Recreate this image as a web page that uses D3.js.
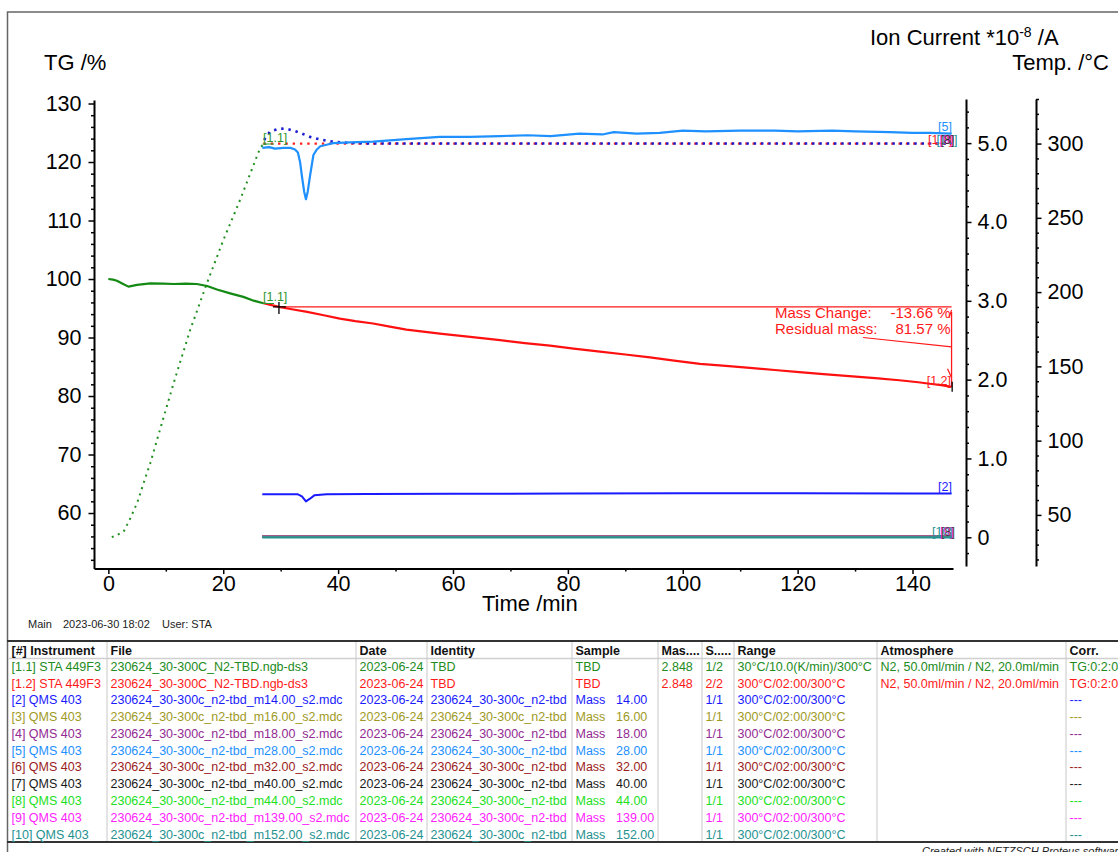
<!DOCTYPE html>
<html>
<head>
<meta charset="utf-8">
<script src="https://cdn.jsdelivr.net/npm/d3@7/dist/d3.min.js"></script>
<style>
  body { margin: 0; background: #fff; }
  svg { display: block; font-family: "Liberation Sans", Arial, sans-serif; }
</style>
</head>
<body>
<svg id="chart"></svg>
<script>
// ---- data: [time /min, value] ----
// TG segment [1.1] (dynamic heating), %
const tg11 = [[0, 100.0], [0.8, 99.9], [1.5, 99.7], [2.4, 99.25], [3.5, 98.7], [5, 99.0], [7.3, 99.25],
  [9.5, 99.2], [11.4, 99.15], [13.5, 99.2], [15.4, 99.15], [17.2, 98.8], [18.9, 98.2], [21.2, 97.55],
  [23.5, 96.95], [25.3, 96.3], [27.0, 95.85]];
// TG segment [1.2] (isothermal), %
const tg12 = [[27.0, 95.85], [28.8, 95.45], [29.7, 95.23], [31.7, 94.87], [34.6, 94.37], [37.5, 93.8],
  [40.3, 93.24], [43, 92.8], [46.1, 92.4], [49, 91.85], [51.9, 91.36], [54.8, 91.0], [57.7, 90.68],
  [63, 90.1], [68.2, 89.55], [72.5, 89.05], [76.9, 88.6], [81, 88.1], [85.6, 87.6], [90, 87.1],
  [94.3, 86.6], [98.5, 86.05], [103, 85.5], [107.5, 85.15], [111.7, 84.8], [116, 84.45], [120.3, 84.1],
  [124.5, 83.75], [129, 83.4], [133.5, 83.05], [137.7, 82.7], [141, 82.35], [143, 82.1], [145, 81.85],
  [146.8, 81.57]];
// Temperature, °C
const temp11 = [[0.6, 35.0], [1.5, 36.5], [2.66, 38.7], [3.83, 47.8], [4.99, 57.9], [6.14, 71.4],
  [7.3, 84.8], [8.47, 100.5], [11.36, 138.7], [14.26, 174.7], [17.17, 206.1], [20.05, 235.3],
  [22.96, 262.3], [25.86, 291.4], [26.43, 297.1], [27.0, 299.5]];
const temp12 = [[27.0, 300], [27.3, 303.8], [28.2, 308.3], [29.8, 310.1], [31.1, 309.9], [32.5, 308.3],
  [33.4, 307.2], [35.1, 304.5], [36.9, 302.7], [38.6, 301.5], [41.5, 300.5], [45, 300.1], [60, 300],
  [100, 300], [146.8, 300]];
const temp12Set = [[27.0, 300], [146.8, 300]];
// Ion currents, *10^-8 A
const m28 = [[26.8, 4.94], [28, 4.95], [29, 4.93], [30.5, 4.94], [31.7, 4.94], [32.5, 4.92], [33.0, 4.88],
  [33.4, 4.75], [33.7, 4.58], [34.1, 4.38], [34.4, 4.29], [34.7, 4.38], [35.1, 4.58], [35.7, 4.85],
  [36.3, 4.92], [36.9, 4.96], [38, 4.98], [39.1, 5.0], [42.1, 5.01], [46.1, 5.02], [51.9, 5.05],
  [57.7, 5.08], [63, 5.08], [68.2, 5.09], [73, 5.10], [77, 5.09], [82, 5.12], [86, 5.11], [88, 5.14],
  [92, 5.12], [96, 5.13], [100, 5.16], [104, 5.15], [110, 5.16], [116, 5.16], [120, 5.15], [126, 5.16],
  [130, 5.15], [136, 5.14], [140, 5.13], [143, 5.13], [146.8, 5.12]];
const m14 = [[26.8, 0.545], [30, 0.547], [33, 0.545], [33.7, 0.52], [34.4, 0.455], [35.1, 0.49],
  [35.9, 0.535], [38, 0.545], [45, 0.55], [60, 0.552], [80, 0.555], [100, 0.558], [120, 0.558],
  [140, 0.557], [146.8, 0.556]];
const m16 = [[26.8, 0.010], [80, 0.011], [146.8, 0.010]];
const m18 = [[26.8, 0.012], [80, 0.012], [146.8, 0.012]];
const m32 = [[26.8, 0.013], [80, 0.012], [146.8, 0.012]];
const m40 = [[26.8, 0.008], [80, 0.008], [146.8, 0.008]];
const m44 = [[26.8, 0.009], [80, 0.009], [146.8, 0.009]];
const m139 = [[26.8, 0.011], [80, 0.011], [146.8, 0.011]];
const m152 = [[26.8, 0.0], [80, 0.0], [146.8, 0.0]];

// mass change evaluation
const massRef = [29.7, 95.23];
const massEnd = [146.8, 81.57];
const massChangeText = ["Mass Change:", "-13.66 %"];
const residualText = ["Residual mass:", "81.57 %"];

// axis ticks
const timeTicks = [0, 20, 40, 60, 80, 100, 120, 140];
const tgTicks = [60, 70, 80, 90, 100, 110, 120, 130];
const ionTicks = [0, 1, 2, 3, 4, 5];
const tempTicks = [50, 100, 150, 200, 250, 300];

// legend table
const tblHeaders = ["[#] Instrument", "File", "Date", "Identity", "Sample", "Mas....", "S.....", "Range", "Atmosphere", "Corr."];
const tblInstrument = ["[1.1] STA 449F3", "[1.2] STA 449F3", "[2] QMS 403", "[3] QMS 403", "[4] QMS 403",
  "[5] QMS 403", "[6] QMS 403", "[7] QMS 403", "[8] QMS 403", "[9] QMS 403", "[10] QMS 403"];
const tblFile = ["230624_30-300C_N2-TBD.ngb-ds3", "230624_30-300C_N2-TBD.ngb-ds3",
  "230624_30-300c_n2-tbd_m14.00_s2.mdc", "230624_30-300c_n2-tbd_m16.00_s2.mdc",
  "230624_30-300c_n2-tbd_m18.00_s2.mdc", "230624_30-300c_n2-tbd_m28.00_s2.mdc",
  "230624_30-300c_n2-tbd_m32.00_s2.mdc", "230624_30-300c_n2-tbd_m40.00_s2.mdc",
  "230624_30-300c_n2-tbd_m44.00_s2.mdc", "230624_30-300c_n2-tbd_m139.00_s2.mdc",
  "230624_30-300c_n2-tbd_m152.00_s2.mdc"];
const tblDate = Array(11).fill("2023-06-24");
const tblIdentity = ["TBD", "TBD"].concat(Array(9).fill("230624_30-300c_n2-tbd"));
const tblSample = ["TBD", "TBD"].concat(Array(9).fill("Mass"));
const tblSampleMass = ["", "", "14.00", "16.00", "18.00", "28.00", "32.00", "40.00", "44.00", "139.00", "152.00"];
const tblMass = ["2.848", "2.848", "", "", "", "", "", "", "", "", ""];
const tblSeg = ["1/2", "2/2", "1/1", "1/1", "1/1", "1/1", "1/1", "1/1", "1/1", "1/1", "1/1"];
const tblRange = ["30°C/10.0(K/min)/300°C"].concat(Array(10).fill("300°C/02:00/300°C"));
const tblAtmos = ["N2, 50.0ml/min / N2, 20.0ml/min", "N2, 50.0ml/min / N2, 20.0ml/min", "", "", "", "", "", "", "", "", ""];
const tblCorr = ["TG:0:2:0", "TG:0:2:0"].concat(Array(9).fill("---"));
const rowColors = ["#228b22", "#ff1a1a", "#1a1aff", "#a09a25", "#922a92", "#1e90ff", "#9b1c1c",
  "#1a1a1a", "#22e022", "#ff22ff", "#269191"];

class ThermoChart {
  constructor(_config) {
    this.config = {
      parentElement: _config.parentElement,
      containerWidth: 1118,
      containerHeight: 852,
      plot: { left: 94, right: 953, top: 99, bottom: 568.6 },
      ionAxisX: 966,
      tempAxisX: 1036,
    };
    this.initVis();
  }

  initVis() {
    let vis = this;
    const c = vis.config;

    vis.svg = d3.select(c.parentElement)
      .attr('width', c.containerWidth)
      .attr('height', c.containerHeight);

    vis.xScale = d3.scaleLinear().domain([-2.5, 147.05]).range([c.plot.left, c.plot.right]);
    vis.yTg = d3.scaleLinear().domain([50.5, 130.6]).range([568.6, 100]);
    vis.yIon = d3.scaleLinear().domain([-0.364, 5.56]).range([566, 99]);
    vis.yTemp = d3.scaleLinear().domain([15.6, 330]).range([566, 99]);

    // outer frame
    vis.svg.append('rect')
      .attr('x', 7.5).attr('y', 12).attr('width', 1200).attr('height', 1000)
      .attr('fill', 'none').attr('stroke', '#666').attr('stroke-width', 1.5);

    vis.chart = vis.svg.append('g');
    vis.renderVis();
    vis.renderTable();
  }

  renderVis() {
    let vis = this;
    const c = vis.config;
    const x = vis.xScale;

    const styleAxis = (g) => {
      g.select('.domain').attr('stroke', '#000').attr('stroke-width', 2);
      g.selectAll('.tick line').attr('stroke', '#000').attr('stroke-width', 1.5);
      g.selectAll('.tick text').attr('fill', '#000')
        .style('font-size', '21.5px').style('font-family', '"Liberation Sans", Arial, sans-serif');
    };
    const noDomain = g => g.select('.domain').remove();

    // x axis
    vis.chart.append('g')
      .attr('transform', `translate(0,${c.plot.bottom})`)
      .call(d3.axisBottom(x).tickValues(d3.range(10, 147, 20)).tickSize(3).tickFormat(''))
      .call(noDomain).call(styleAxis);
    vis.chart.append('g')
      .attr('transform', `translate(0,${c.plot.bottom})`)
      .call(d3.axisBottom(x).tickValues(timeTicks).tickSize(5.5).tickSizeOuter(0).tickPadding(2))
      .call(styleAxis);

    // TG axis
    vis.chart.append('g')
      .attr('transform', `translate(${c.plot.left},0)`)
      .call(d3.axisLeft(vis.yTg).tickValues(d3.range(52, 131, 2).filter(d => d % 10 !== 0)).tickSize(3).tickFormat(''))
      .call(noDomain).call(styleAxis);
    vis.chart.append('g')
      .attr('transform', `translate(${c.plot.left},0)`)
      .call(d3.axisLeft(vis.yTg).tickValues(tgTicks).tickSize(5.5).tickSizeOuter(0).tickPadding(7))
      .call(styleAxis);

    // ion current axis
    vis.chart.append('g')
      .attr('transform', `translate(${c.ionAxisX},0)`)
      .call(d3.axisRight(vis.yIon).tickValues(d3.range(-1, 28).map(i => i * 0.2).filter(d => Math.abs(d - Math.round(d)) > 0.01)).tickSize(3).tickFormat(''))
      .call(noDomain).call(styleAxis);
    vis.chart.append('g')
      .attr('transform', `translate(${c.ionAxisX},0)`)
      .call(d3.axisRight(vis.yIon).tickValues(ionTicks).tickSize(5.5).tickSizeOuter(0).tickPadding(6)
        .tickFormat(d => d === 0 ? '0' : d3.format('.1f')(d)))
      .call(styleAxis);

    // temperature axis
    vis.chart.append('g')
      .attr('transform', `translate(${c.tempAxisX},0)`)
      .call(d3.axisRight(vis.yTemp).tickValues(d3.range(20, 331, 10).filter(d => d % 50 !== 0)).tickSize(3).tickFormat(''))
      .call(noDomain).call(styleAxis);
    vis.chart.append('g')
      .attr('transform', `translate(${c.tempAxisX},0)`)
      .call(d3.axisRight(vis.yTemp).tickValues(tempTicks).tickSize(5.5).tickSizeOuter(0).tickPadding(6))
      .call(styleAxis);

    // axis titles
    const title = (tx, ty, anchor, txt) => vis.svg.append('text')
      .attr('x', tx).attr('y', ty).attr('text-anchor', anchor)
      .style('font-size', '22px').attr('fill', '#000').text(txt);
    title(44, 70, 'start', 'TG /%');
    title(1109, 70, 'end', 'Temp. /°C');
    title(482, 611, 'start', 'Time /min');
    const ionTitle = title(870, 45, 'start', 'Ion Current *10');
    ionTitle.append('tspan').attr('dy', -8).style('font-size', '14px').text('-8');
    ionTitle.append('tspan').attr('dy', 8).text(' /A');

    vis.svg.append('text').attr('y', 628).style('font-size', '11px').attr('fill', '#222')
      .selectAll('tspan').data([[28, 'Main'], [63, '2023-06-30 18:02'], [162, 'User: STA']])
      .join('tspan').attr('x', d => d[0]).text(d => d[1]);

    vis.svg.append('text').attr('x', 922).attr('y', 855)
      .style('font-size', '11px').style('font-style', 'italic').attr('fill', '#222')
      .text('Created with NETZSCH Proteus software');

    // ---- curves ----
    const lineOn = (yScale) => d3.line().x(d => x(d[0])).y(d => yScale(d[1]));
    const drawLine = (data, yScale, color, width, dash, offset) => {
      const p = vis.chart.append('path').datum(data)
        .attr('fill', 'none').attr('stroke', color).attr('stroke-width', width)
        .attr('stroke-linejoin', 'round')
        .attr('d', lineOn(yScale));
      if (dash) p.attr('stroke-dasharray', dash).attr('stroke-dashoffset', offset || 0);
      return p;
    };

    // temperature (dotted)
    drawLine(temp11, vis.yTemp, '#1f8f1f', 2, '2,4.6');
    drawLine(temp12Set, vis.yTemp, '#ff2020', 2.2, '2.4,4.9', 0);
    drawLine(temp12, vis.yTemp, '#1a1ad0', 2.6, '2.4,4.9', 3.6);

    // ion currents near zero
    [[m16, rowColors[3]], [m18, rowColors[4]], [m32, rowColors[6]], [m40, rowColors[7]],
     [m44, rowColors[8]], [m139, rowColors[9]]].forEach(s => drawLine(s[0], vis.yIon, s[1], 2));
    drawLine(m40, vis.yIon, '#8d7a78', 2);
    drawLine(m152, vis.yIon, rowColors[10], 2.2);
    drawLine(m14, vis.yIon, rowColors[2], 2);
    drawLine(m28, vis.yIon, rowColors[5], 2.2);

    // TG
    drawLine(tg11, vis.yTg, '#138a13', 2.2);
    drawLine(tg12, vis.yTg, '#ff1010', 2.2);

    // mass change evaluation
    const red = '#ff1a1a';
    const xr = x(massRef[0]), yr = vis.yTg(massRef[1]);
    const xe = x(massEnd[0]), ye = vis.yTg(massEnd[1]);
    vis.chart.append('line').attr('x1', xr).attr('x2', xe).attr('y1', yr).attr('y2', yr)
      .attr('stroke', red).attr('stroke-width', 1.3);
    vis.chart.append('line').attr('x1', xe).attr('x2', xe).attr('y1', yr + 5).attr('y2', ye)
      .attr('stroke', red).attr('stroke-width', 1.3);
    vis.chart.append('path').attr('d', `M${xe - 2.5},${yr + 11}L${xe},${yr + 3}`)
      .attr('stroke', red).attr('stroke-width', 1.2).attr('fill', 'none');
    vis.chart.append('path').attr('d', `M${xe - 4},${ye - 18}L${xe},${ye - 9}`)
      .attr('stroke', red).attr('stroke-width', 1.2).attr('fill', 'none');
    vis.chart.append('line').attr('x1', xe - 88.5).attr('y1', yr + 30.6).attr('x2', xe).attr('y2', yr + 40)
      .attr('stroke', red).attr('stroke-width', 1.2);
    // markers
    vis.chart.append('path').attr('d', `M${xr},${yr - 5}V${yr + 7}M${xr - 6},${yr}H${xr + 7}`)
      .attr('stroke', '#000').attr('stroke-width', 1.3);
    vis.chart.append('path').attr('d', `M${xe + 0.6},${ye - 5}V${ye + 5}`)
      .attr('stroke', '#000').attr('stroke-width', 1.3);

    const annot = vis.chart.append('g').style('font-size', '15px').attr('fill', red);
    [[massChangeText, yr + 11], [residualText, yr + 27.5]].forEach(r => {
      annot.append('text').attr('x', 775).attr('y', r[1]).text(r[0][0]);
      annot.append('text').attr('x', xe - 1).attr('y', r[1]).attr('text-anchor', 'end').text(r[0][1]);
    });

    // curve labels
    const lbl = (lx, ly, txt, color, anchor) => vis.chart.append('text')
      .attr('x', lx).attr('y', ly).attr('text-anchor', anchor || 'start')
      .style('font-size', '12.5px').attr('fill', color).text(txt);
    const green = '#2e962e';
    lbl(263, 142, '[1.1]', green);
    vis.chart.append('line').attr('x1', 262.5).attr('x2', 274).attr('y1', 144).attr('y2', 144).attr('stroke', green);
    lbl(263, 301, '[1.1]', green);
    vis.chart.append('line').attr('x1', 262.5).attr('x2', 274).attr('y1', 303.5).attr('y2', 303.5).attr('stroke', green);
    lbl(952, 131, '[5]', rowColors[5], 'end');
    lbl(952, 491, '[2]', rowColors[2], 'end');
    lbl(951, 385, '[1.2]', red, 'end');
    // overlapping end labels (temperature cluster and near-zero ion currents)
    lbl(928, 143.5, '[1.2]', red);
    lbl(936.5, 143.5, '[10]', rowColors[10]);
    lbl(939.5, 143.5, '[9]', rowColors[9]);
    lbl(940.5, 143.5, '[8]', '#333');
    lbl(932, 535.5, '[10]', rowColors[10]);
    lbl(940, 535.5, '[9]', rowColors[9]);
    lbl(941, 535.5, '[8]', '#444');
  }

  renderTable() {
    let vis = this;
    const top = 641, bottom = 842, headH = 18, rowH = 16.77;
    const colX = [8, 107, 356, 427, 572, 658, 702, 734, 877, 1066];
    const g = vis.svg.append('g').style('font-size', '12.5px');

    g.append('line').attr('x1', 8).attr('x2', 1118).attr('y1', top + headH - 0.5).attr('y2', top + headH - 0.5)
      .attr('stroke', '#d0d0d0').attr('stroke-width', 1.5);
    colX.slice(1).forEach(cx => g.append('line').attr('x1', cx).attr('x2', cx).attr('y1', top).attr('y2', bottom)
      .attr('stroke', '#c8c8c8').attr('stroke-width', 1));
    g.append('line').attr('x1', 7).attr('x2', 1118).attr('y1', top).attr('y2', top).attr('stroke', '#333').attr('stroke-width', 2);
    g.append('line').attr('x1', 7).attr('x2', 1118).attr('y1', bottom).attr('y2', bottom).attr('stroke', '#333').attr('stroke-width', 2);

    g.selectAll('text.head').data(tblHeaders).join('text').attr('class', 'head')
      .attr('x', (d, i) => colX[i] + 3.5).attr('y', top + 13.5)
      .style('font-weight', 'bold').attr('fill', '#111').text(d => d);

    const cols = [tblInstrument, tblFile, tblDate, tblIdentity, tblSample, tblMass, tblSeg, tblRange, tblAtmos, tblCorr];
    tblInstrument.forEach((_, r) => {
      const ty = 666.3 + r * rowH + 4.5;
      const row = g.append('g').attr('fill', rowColors[r]);
      cols.forEach((col, ci) => {
        row.append('text').attr('x', colX[ci] + 3.5).attr('y', ty).text(col[r]);
      });
      if (tblSampleMass[r]) row.append('text').attr('x', 616).attr('y', ty).text(tblSampleMass[r]);
    });
  }
}

new ThermoChart({ parentElement: '#chart' });
</script>
</body>
</html>
